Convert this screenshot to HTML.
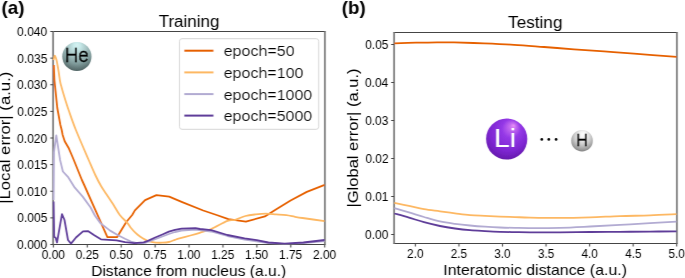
<!DOCTYPE html><html><head><meta charset="utf-8"><style>html,body{margin:0;padding:0;background:#fff;}svg{display:block;font-family:"Liberation Sans",sans-serif;}</style></head><body>
<svg width="685" height="278" viewBox="0 0 685 278">
<defs>
<radialGradient id="gHe" cx="0.5" cy="0.3" r="0.75" fx="0.5" fy="0.1">
<stop offset="0" stop-color="#d4f2f2"/><stop offset="0.15" stop-color="#c8eaea"/><stop offset="0.42" stop-color="#a8c6c6"/><stop offset="0.68" stop-color="#809c9c"/><stop offset="0.92" stop-color="#546868"/><stop offset="1" stop-color="#506464"/></radialGradient>
<radialGradient id="gLi" cx="0.5" cy="0.4" r="0.65" fx="0.67" fy="0.17">
<stop offset="0" stop-color="#e890f8"/><stop offset="0.12" stop-color="#c46af0"/><stop offset="0.35" stop-color="#9438e6"/><stop offset="0.7" stop-color="#7e26d2"/><stop offset="0.9" stop-color="#6a1cb4"/><stop offset="1" stop-color="#5c1898"/></radialGradient>
<radialGradient id="gH" cx="0.5" cy="0.4" r="0.65" fx="0.56" fy="0.18">
<stop offset="0" stop-color="#ffffff"/><stop offset="0.3" stop-color="#f0f0f0"/><stop offset="0.6" stop-color="#c8c8c8"/><stop offset="0.85" stop-color="#999999"/><stop offset="1" stop-color="#727272"/></radialGradient>
<filter id="soft" filterUnits="userSpaceOnUse" x="0" y="0" width="685" height="278"><feConvolveMatrix order="3 1" kernelMatrix="0.12 0.76 0.12" divisor="1" edgeMode="none"/></filter>
<clipPath id="cl"><rect x="52.4" y="31.5" width="272.3" height="213"/></clipPath>
<clipPath id="cr"><rect x="393.4" y="32.5" width="283.3" height="211"/></clipPath>
</defs>
<g filter="url(#soft)">
<line x1="52.70" y1="31.50" x2="325.30" y2="31.50" stroke="#444444" stroke-width="1.0"/>
<line x1="52.70" y1="244.50" x2="325.30" y2="244.50" stroke="#444444" stroke-width="1.0"/>
<line x1="53.10" y1="31.00" x2="53.10" y2="245.00" stroke="#6e6e6e" stroke-width="1.6"/>
<line x1="324.90" y1="31.00" x2="324.90" y2="245.00" stroke="#6e6e6e" stroke-width="1.6"/>
<line x1="393.70" y1="32.50" x2="677.30" y2="32.50" stroke="#444444" stroke-width="1.0"/>
<line x1="393.70" y1="243.50" x2="677.30" y2="243.50" stroke="#444444" stroke-width="1.0"/>
<line x1="394.10" y1="32.00" x2="394.10" y2="244.00" stroke="#6e6e6e" stroke-width="1.6"/>
<line x1="676.90" y1="32.00" x2="676.90" y2="244.00" stroke="#6e6e6e" stroke-width="1.6"/>
<g clip-path="url(#cl)">
<polyline points="53.8,65.1 54.4,80.0 57.3,108.0 60.4,125.0 61.7,130.0 62.6,134.7 64.7,141.2 68.5,147.7 71.7,155.0 73.8,160.0 81.9,180.0 84.2,185.0 107.4,237.2 117.0,237.2 126.3,222.0 132.2,215.0 134.9,210.4 145.1,200.1 156.4,195.2 169.2,196.7 181.6,201.9 203.2,210.5 216.6,215.0 228.4,219.1 245.9,221.6 264.9,216.4 275.5,209.7 290.6,200.5 306.8,191.9 324.7,184.9" fill="none" stroke="#e66101" stroke-width="1.8" stroke-linejoin="round" stroke-linecap="butt"/>
<path d="M53.50,60.00 C53.72,59.27 54.32,55.67 54.80,55.60 C55.28,55.53 55.95,58.03 56.40,59.60 C56.85,61.17 57.13,63.03 57.50,65.00 C57.87,66.97 58.15,68.57 58.60,71.40 C59.05,74.23 59.72,79.40 60.20,82.00 C60.68,84.60 61.00,85.17 61.50,87.00 C62.00,88.83 62.48,90.58 63.20,93.00 C63.92,95.42 64.90,98.67 65.80,101.50 C66.70,104.33 66.92,105.25 68.60,110.00 C70.28,114.75 72.55,121.67 75.90,130.00 C79.25,138.33 85.47,152.50 88.70,160.00 C91.93,167.50 93.22,170.62 95.30,175.00 C97.38,179.38 99.32,183.07 101.20,186.30 C103.08,189.53 104.53,191.28 106.60,194.40 C108.67,197.52 111.40,201.57 113.60,205.00 C115.80,208.43 117.52,212.03 119.80,215.00 C122.08,217.97 125.50,220.72 127.30,222.80 C129.10,224.88 129.27,225.87 130.60,227.50 C131.93,229.13 133.73,231.12 135.30,232.60 C136.87,234.08 138.37,235.23 140.00,236.40 C141.63,237.57 143.40,238.72 145.10,239.60 C146.80,240.48 148.42,241.20 150.20,241.70 C151.98,242.20 153.77,242.43 155.80,242.60 C157.83,242.77 160.22,242.80 162.40,242.70 C164.58,242.60 166.80,242.48 168.90,242.00 C171.00,241.52 173.40,240.35 175.00,239.80 C176.60,239.25 175.93,239.42 178.50,238.70 C181.07,237.98 186.87,236.48 190.40,235.50 C193.93,234.52 196.23,233.88 199.70,232.80 C203.17,231.72 206.58,230.98 211.20,229.00 C215.82,227.02 223.40,222.43 227.40,220.90 C231.40,219.37 232.20,220.62 235.20,219.80 C238.20,218.98 241.98,216.90 245.40,216.00 C248.82,215.10 252.28,214.78 255.70,214.40 C259.12,214.02 262.50,213.70 265.90,213.70 C269.30,213.70 272.70,214.15 276.10,214.40 C279.50,214.65 283.15,214.80 286.30,215.20 C289.45,215.60 292.30,216.33 295.00,216.80 C297.70,217.27 297.55,217.28 302.50,218.00 C307.45,218.72 321.00,220.58 324.70,221.10" fill="none" stroke="#fdb863" stroke-width="1.8" stroke-linecap="butt"/>
<polyline points="53.6,200.0 54.0,152.0 56.3,135.3 58.8,151.6 60.1,160.0 62.9,171.5 67.9,176.8 74.8,187.7 82.7,196.6 90.6,207.5 95.0,215.7 100.4,223.1 110.1,230.6 117.6,235.0 125.0,238.7 131.0,241.5 138.0,243.3 145.0,242.8 155.8,239.0 168.9,234.0 175.0,232.0 181.5,230.5 195.5,229.5 211.2,231.5 227.4,236.0 244.6,239.5 268.4,243.2 284.7,244.2 303.4,243.2 324.7,241.0" fill="none" stroke="#b2abd2" stroke-width="1.8" stroke-linejoin="round" stroke-linecap="butt"/>
<polyline points="53.6,201.5 54.2,237.0 55.5,237.5 57.0,242.5 62.0,214.2 64.5,220.0 68.0,240.0 71.0,243.6 76.0,237.5 83.0,231.4 88.3,231.2 94.3,235.3 100.9,239.3 116.6,240.3 125.0,242.2 134.3,243.2 143.7,242.4 148.4,240.6 155.8,237.3 162.4,234.5 168.9,231.7 175.0,229.8 181.5,228.6 195.5,228.2 200.0,229.0 211.2,230.1 227.4,235.0 244.6,238.4 256.7,240.2 268.4,242.5 284.7,243.7 303.4,242.5 324.7,240.0" fill="none" stroke="#5e3c99" stroke-width="1.8" stroke-linejoin="round" stroke-linecap="butt"/>
</g>
<g clip-path="url(#cr)">
<path d="M394.40,43.40 C398.00,43.28 408.90,42.88 416.00,42.70 C423.10,42.52 430.67,42.35 437.00,42.30 C443.33,42.25 446.17,42.22 454.00,42.40 C461.83,42.58 474.00,43.00 484.00,43.40 C494.00,43.80 504.00,44.20 514.00,44.80 C524.00,45.40 534.00,46.25 544.00,47.00 C554.00,47.75 564.00,48.57 574.00,49.30 C584.00,50.03 594.00,50.67 604.00,51.40 C614.00,52.13 621.88,52.78 634.00,53.70 C646.12,54.62 669.58,56.37 676.70,56.90" fill="none" stroke="#e66101" stroke-width="1.8" stroke-linecap="butt"/>
<path d="M394.40,202.90 C396.83,203.40 404.07,204.85 409.00,205.90 C413.93,206.95 418.83,208.30 424.00,209.20 C429.17,210.10 434.83,210.62 440.00,211.30 C445.17,211.98 450.00,212.67 455.00,213.30 C460.00,213.93 465.00,214.67 470.00,215.10 C475.00,215.53 480.00,215.65 485.00,215.90 C490.00,216.15 495.00,216.40 500.00,216.60 C505.00,216.80 510.00,216.93 515.00,217.10 C520.00,217.27 522.50,217.47 530.00,217.60 C537.50,217.73 550.00,217.95 560.00,217.90 C570.00,217.85 580.00,217.60 590.00,217.30 C600.00,217.00 610.00,216.42 620.00,216.10 C630.00,215.78 640.55,215.72 650.00,215.40 C659.45,215.08 672.25,214.40 676.70,214.20" fill="none" stroke="#fdb863" stroke-width="1.8" stroke-linecap="butt"/>
<path d="M394.40,208.10 C396.83,208.82 404.07,210.92 409.00,212.40 C413.93,213.88 418.83,215.50 424.00,217.00 C429.17,218.50 434.83,220.27 440.00,221.40 C445.17,222.53 450.00,223.12 455.00,223.80 C460.00,224.48 465.00,225.02 470.00,225.50 C475.00,225.98 480.00,226.37 485.00,226.70 C490.00,227.03 495.00,227.30 500.00,227.50 C505.00,227.70 510.00,227.80 515.00,227.90 C520.00,228.00 522.50,228.12 530.00,228.10 C537.50,228.08 550.00,228.07 560.00,227.80 C570.00,227.53 580.00,226.98 590.00,226.50 C600.00,226.02 610.00,225.47 620.00,224.90 C630.00,224.33 640.55,223.65 650.00,223.10 C659.45,222.55 672.25,221.85 676.70,221.60" fill="none" stroke="#b2abd2" stroke-width="1.8" stroke-linecap="butt"/>
<path d="M394.40,213.50 C396.83,214.18 404.07,216.15 409.00,217.60 C413.93,219.05 418.83,220.80 424.00,222.20 C429.17,223.60 434.83,224.95 440.00,226.00 C445.17,227.05 450.00,227.80 455.00,228.50 C460.00,229.20 465.00,229.77 470.00,230.20 C475.00,230.63 480.00,230.83 485.00,231.10 C490.00,231.37 495.00,231.63 500.00,231.80 C505.00,231.97 510.00,232.02 515.00,232.10 C520.00,232.18 522.50,232.27 530.00,232.30 C537.50,232.33 550.00,232.35 560.00,232.30 C570.00,232.25 580.00,232.08 590.00,232.00 C600.00,231.92 610.00,231.87 620.00,231.80 C630.00,231.73 640.55,231.68 650.00,231.60 C659.45,231.52 672.25,231.35 676.70,231.30" fill="none" stroke="#5e3c99" stroke-width="1.8" stroke-linecap="butt"/>
</g>
<line x1="50.30" y1="244.50" x2="53.10" y2="244.50" stroke="#444444" stroke-width="1.0"/>
<line x1="50.30" y1="217.88" x2="53.10" y2="217.88" stroke="#444444" stroke-width="1.0"/>
<line x1="50.30" y1="191.25" x2="53.10" y2="191.25" stroke="#444444" stroke-width="1.0"/>
<line x1="50.30" y1="164.62" x2="53.10" y2="164.62" stroke="#444444" stroke-width="1.0"/>
<line x1="50.30" y1="138.00" x2="53.10" y2="138.00" stroke="#444444" stroke-width="1.0"/>
<line x1="50.30" y1="111.38" x2="53.10" y2="111.38" stroke="#444444" stroke-width="1.0"/>
<line x1="50.30" y1="84.75" x2="53.10" y2="84.75" stroke="#444444" stroke-width="1.0"/>
<line x1="50.30" y1="58.12" x2="53.10" y2="58.12" stroke="#444444" stroke-width="1.0"/>
<line x1="50.30" y1="31.50" x2="53.10" y2="31.50" stroke="#444444" stroke-width="1.0"/>
<line x1="53.40" y1="244.50" x2="53.40" y2="247.60" stroke="#484848" stroke-width="1.1"/>
<line x1="87.31" y1="244.50" x2="87.31" y2="247.60" stroke="#484848" stroke-width="1.1"/>
<line x1="121.22" y1="244.50" x2="121.22" y2="247.60" stroke="#484848" stroke-width="1.1"/>
<line x1="155.14" y1="244.50" x2="155.14" y2="247.60" stroke="#484848" stroke-width="1.1"/>
<line x1="189.05" y1="244.50" x2="189.05" y2="247.60" stroke="#484848" stroke-width="1.1"/>
<line x1="222.96" y1="244.50" x2="222.96" y2="247.60" stroke="#484848" stroke-width="1.1"/>
<line x1="256.88" y1="244.50" x2="256.88" y2="247.60" stroke="#484848" stroke-width="1.1"/>
<line x1="290.79" y1="244.50" x2="290.79" y2="247.60" stroke="#484848" stroke-width="1.1"/>
<line x1="324.70" y1="244.50" x2="324.70" y2="247.60" stroke="#484848" stroke-width="1.1"/>
<line x1="391.20" y1="234.50" x2="394.10" y2="234.50" stroke="#444444" stroke-width="1.0"/>
<line x1="391.20" y1="196.50" x2="394.10" y2="196.50" stroke="#444444" stroke-width="1.0"/>
<line x1="391.20" y1="158.50" x2="394.10" y2="158.50" stroke="#444444" stroke-width="1.0"/>
<line x1="391.20" y1="120.50" x2="394.10" y2="120.50" stroke="#444444" stroke-width="1.0"/>
<line x1="391.20" y1="82.50" x2="394.10" y2="82.50" stroke="#444444" stroke-width="1.0"/>
<line x1="391.20" y1="44.50" x2="394.10" y2="44.50" stroke="#444444" stroke-width="1.0"/>
<line x1="415.40" y1="243.50" x2="415.40" y2="246.60" stroke="#484848" stroke-width="1.1"/>
<line x1="458.95" y1="243.50" x2="458.95" y2="246.60" stroke="#484848" stroke-width="1.1"/>
<line x1="502.50" y1="243.50" x2="502.50" y2="246.60" stroke="#484848" stroke-width="1.1"/>
<line x1="546.05" y1="243.50" x2="546.05" y2="246.60" stroke="#484848" stroke-width="1.1"/>
<line x1="589.60" y1="243.50" x2="589.60" y2="246.60" stroke="#484848" stroke-width="1.1"/>
<line x1="633.15" y1="243.50" x2="633.15" y2="246.60" stroke="#484848" stroke-width="1.1"/>
<line x1="676.70" y1="243.50" x2="676.70" y2="246.60" stroke="#484848" stroke-width="1.1"/>
<text x="17.11" y="249.05" font-size="12.2" textLength="30.14" lengthAdjust="spacingAndGlyphs" fill="#000">0.000</text>
<text x="17.32" y="222.43" font-size="12.2" textLength="29.99" lengthAdjust="spacingAndGlyphs" fill="#000">0.005</text>
<text x="17.11" y="195.80" font-size="12.2" textLength="30.14" lengthAdjust="spacingAndGlyphs" fill="#000">0.010</text>
<text x="17.32" y="169.18" font-size="12.2" textLength="29.99" lengthAdjust="spacingAndGlyphs" fill="#000">0.015</text>
<text x="17.11" y="142.55" font-size="12.2" textLength="30.14" lengthAdjust="spacingAndGlyphs" fill="#000">0.020</text>
<text x="17.32" y="115.92" font-size="12.2" textLength="29.99" lengthAdjust="spacingAndGlyphs" fill="#000">0.025</text>
<text x="17.11" y="89.30" font-size="12.2" textLength="30.14" lengthAdjust="spacingAndGlyphs" fill="#000">0.030</text>
<text x="17.32" y="62.67" font-size="12.2" textLength="29.99" lengthAdjust="spacingAndGlyphs" fill="#000">0.035</text>
<text x="17.11" y="36.05" font-size="12.2" textLength="30.14" lengthAdjust="spacingAndGlyphs" fill="#000">0.040</text>
<text x="41.71" y="259.30" font-size="12.2" textLength="23.33" lengthAdjust="spacingAndGlyphs" fill="#000">0.00</text>
<text x="75.74" y="259.30" font-size="12.2" textLength="23.17" lengthAdjust="spacingAndGlyphs" fill="#000">0.25</text>
<text x="109.54" y="259.30" font-size="12.2" textLength="23.33" lengthAdjust="spacingAndGlyphs" fill="#000">0.50</text>
<text x="143.56" y="259.30" font-size="12.2" textLength="23.17" lengthAdjust="spacingAndGlyphs" fill="#000">0.75</text>
<text x="177.19" y="259.30" font-size="12.2" textLength="23.27" lengthAdjust="spacingAndGlyphs" fill="#000">1.00</text>
<text x="211.21" y="259.30" font-size="12.2" textLength="23.10" lengthAdjust="spacingAndGlyphs" fill="#000">1.25</text>
<text x="245.01" y="259.30" font-size="12.2" textLength="23.27" lengthAdjust="spacingAndGlyphs" fill="#000">1.50</text>
<text x="279.04" y="259.30" font-size="12.2" textLength="23.10" lengthAdjust="spacingAndGlyphs" fill="#000">1.75</text>
<text x="312.95" y="259.30" font-size="12.2" textLength="23.34" lengthAdjust="spacingAndGlyphs" fill="#000">2.00</text>
<text x="365.00" y="239.05" font-size="12.2" textLength="23.33" lengthAdjust="spacingAndGlyphs" fill="#000">0.00</text>
<text x="365.27" y="201.05" font-size="12.2" textLength="23.18" lengthAdjust="spacingAndGlyphs" fill="#000">0.01</text>
<text x="365.38" y="163.05" font-size="12.2" textLength="23.13" lengthAdjust="spacingAndGlyphs" fill="#000">0.02</text>
<text x="365.17" y="125.05" font-size="12.2" textLength="23.23" lengthAdjust="spacingAndGlyphs" fill="#000">0.03</text>
<text x="364.90" y="87.05" font-size="12.2" textLength="23.38" lengthAdjust="spacingAndGlyphs" fill="#000">0.04</text>
<text x="365.22" y="49.05" font-size="12.2" textLength="23.17" lengthAdjust="spacingAndGlyphs" fill="#000">0.05</text>
<text x="407.05" y="258.30" font-size="12.2" textLength="16.53" lengthAdjust="spacingAndGlyphs" fill="#000">2.0</text>
<text x="450.71" y="258.30" font-size="12.2" textLength="16.36" lengthAdjust="spacingAndGlyphs" fill="#000">2.5</text>
<text x="494.27" y="258.30" font-size="12.2" textLength="16.40" lengthAdjust="spacingAndGlyphs" fill="#000">3.0</text>
<text x="537.93" y="258.30" font-size="12.2" textLength="16.24" lengthAdjust="spacingAndGlyphs" fill="#000">3.5</text>
<text x="581.47" y="258.30" font-size="12.2" textLength="16.43" lengthAdjust="spacingAndGlyphs" fill="#000">4.0</text>
<text x="625.13" y="258.30" font-size="12.2" textLength="16.27" lengthAdjust="spacingAndGlyphs" fill="#000">4.5</text>
<text x="668.47" y="258.30" font-size="12.2" textLength="16.40" lengthAdjust="spacingAndGlyphs" fill="#000">5.0</text>
<text x="91.15" y="275.70" font-size="14.4" textLength="195.06" lengthAdjust="spacingAndGlyphs" fill="#000">Distance from nucleus (a.u.)</text>
<text x="443.27" y="274.80" font-size="14.4" textLength="183.70" lengthAdjust="spacingAndGlyphs" fill="#000">Interatomic distance (a.u.)</text>
<text transform="translate(10.40,203.80) rotate(-90)" x="0" y="0" font-size="14.8" textLength="132.13" lengthAdjust="spacingAndGlyphs" fill="#000">|Local error| (a.u.)</text>
<text transform="translate(358.00,207.59) rotate(-90)" x="0" y="0" font-size="14.8" textLength="139.10" lengthAdjust="spacingAndGlyphs" fill="#000">|Global error| (a.u.)</text>
<text x="158.66" y="27.10" font-size="15.8" textLength="60.86" lengthAdjust="spacingAndGlyphs" fill="#000">Training</text>
<text x="508.06" y="28.00" font-size="15.8" textLength="54.42" lengthAdjust="spacingAndGlyphs" fill="#000">Testing</text>
<text x="1.56" y="13.80" font-size="19" font-weight="bold" textLength="23.03" lengthAdjust="spacingAndGlyphs" fill="#000">(a)</text>
<text x="341.76" y="13.80" font-size="19" font-weight="bold" textLength="23.92" lengthAdjust="spacingAndGlyphs" fill="#000">(b)</text>
<rect x="179.5" y="38.7" width="139.2" height="90.6" rx="2.5" ry="2.5" fill="#fff" fill-opacity="0.8" stroke="#d6d6d6" stroke-width="1"/>
<line x1="184.3" y1="50.7" x2="213.5" y2="50.7" stroke="#e66101" stroke-width="2"/>
<text x="223.66" y="56.10" font-size="14.2" textLength="71.01" lengthAdjust="spacingAndGlyphs" fill="#000">epoch=50</text>
<line x1="184.3" y1="72.4" x2="213.5" y2="72.4" stroke="#fdb863" stroke-width="2"/>
<text x="223.66" y="77.80" font-size="14.2" textLength="79.82" lengthAdjust="spacingAndGlyphs" fill="#000">epoch=100</text>
<line x1="184.3" y1="94.1" x2="213.5" y2="94.1" stroke="#b2abd2" stroke-width="2"/>
<text x="223.66" y="99.50" font-size="14.2" textLength="88.64" lengthAdjust="spacingAndGlyphs" fill="#000">epoch=1000</text>
<line x1="184.3" y1="115.6" x2="213.5" y2="115.6" stroke="#5e3c99" stroke-width="2"/>
<text x="223.66" y="121.00" font-size="14.2" textLength="88.64" lengthAdjust="spacingAndGlyphs" fill="#000">epoch=5000</text>
<circle cx="76.9" cy="56.5" r="14.6" fill="url(#gHe)"/>
<text x="64.69" y="61.90" font-size="19.3" textLength="24.12" lengthAdjust="spacingAndGlyphs" fill="#000" stroke="#000" stroke-width="0.35">He</text>
<circle cx="506.7" cy="139" r="20.6" fill="url(#gLi)"/>
<text x="493.94" y="147.20" font-size="26" textLength="21.99" lengthAdjust="spacingAndGlyphs" fill="#fff">Li</text>
<circle cx="541.8" cy="139.4" r="1.35" fill="#000"/>
<circle cx="548.8" cy="139.4" r="1.35" fill="#000"/>
<circle cx="556.1" cy="139.4" r="1.35" fill="#000"/>
<circle cx="582" cy="140.7" r="10.8" fill="url(#gH)"/>
<text x="576.31" y="145.70" font-size="15.8" textLength="11.61" lengthAdjust="spacingAndGlyphs" fill="#000" stroke="#000" stroke-width="0.3">H</text>
</g></svg></body></html>
